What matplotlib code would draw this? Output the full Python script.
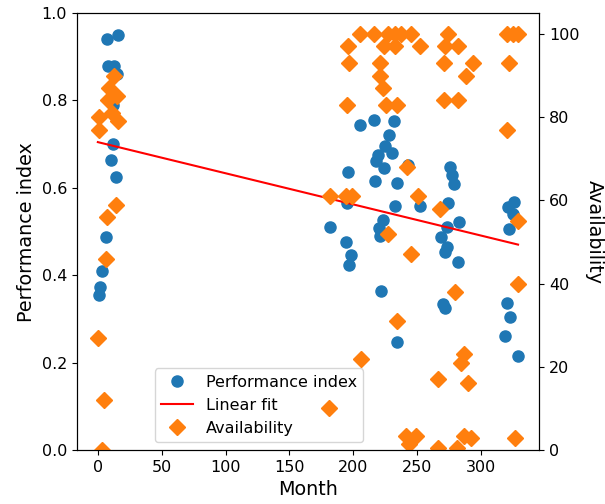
import numpy as np
import matplotlib
matplotlib.use("Agg")
import matplotlib.pyplot as plt

# performance index (left axis)
perf_month = [1, 2, 3, 6, 7, 8, 10, 12, 12, 13, 14, 15, 16,
              182, 194, 195, 196, 197, 198, 205, 216, 217, 218, 219, 220, 221, 222,
              223, 224, 225, 228, 230, 232, 233, 234, 234, 243, 252,
              269, 270, 272, 273, 272, 273, 274, 276, 277, 279, 282, 283,
              319, 320, 321, 322, 323, 325, 326, 329]
perf_value = [0.356, 0.373, 0.41, 0.487, 0.94, 0.88, 0.664, 0.70, 0.79, 0.88, 0.624, 0.86, 0.95,
              0.51, 0.476, 0.565, 0.637, 0.423, 0.446, 0.743, 0.755, 0.616, 0.662, 0.675, 0.508, 0.49, 0.365,
              0.526, 0.646, 0.696, 0.72, 0.68, 0.753, 0.558, 0.612, 0.248, 0.652, 0.559,
              0.488, 0.334, 0.324, 0.51, 0.454, 0.465, 0.566, 0.648, 0.63, 0.609, 0.43, 0.522,
              0.262, 0.337, 0.557, 0.505, 0.305, 0.541, 0.568, 0.215]

# availability (right axis)
avail_month = [0, 1, 1, 3, 5, 6, 7, 8, 9, 11, 13, 14, 15, 16,
               181, 182, 194, 195, 196, 197, 199, 205, 206, 216, 221, 221, 223, 224,
               226, 227, 227, 233, 233, 234, 234, 241, 244, 249,
               237, 242, 245, 245, 251, 252,
               266, 266, 268, 271, 271, 272, 274, 280, 281, 282, 282, 284, 287, 287,
               288, 290, 292, 294,
               320, 320, 322, 325, 329, 329, 329, 327]
avail_value = [27, 77, 80, 0, 12, 46, 56, 84, 87, 81, 90, 59, 85, 79,
               10, 61, 61, 83, 97, 93, 61, 100, 22, 100, 93, 90, 87, 97,
               83, 100, 52, 100, 97, 83, 31, 3.5, 1.5, 3.5,
               100, 68, 100, 47, 61, 97,
               0.5, 17, 58, 93, 84, 97, 100, 38, 0.5, 97, 84, 21, 23, 3.5,
               90, 16, 3, 93,
               77, 100, 93, 100, 100, 55, 40, 3]

perf_month = np.array(perf_month)
perf_value = np.array(perf_value)

# linear fit of performance vs month
coef = np.polyfit(perf_month, perf_value, 1)
fit_x = np.array([0, max(perf_month)])
fit_y = np.polyval(coef, fit_x)

fig, ax1 = plt.subplots(figsize=(6.05, 5.04), dpi=100)
fig.subplots_adjust(left=0.127, right=0.891, top=0.974, bottom=0.107)

p1, = ax1.plot(perf_month, perf_value, 'o', color='#1f77b4', markersize=8,
               label='Performance index')
l1, = ax1.plot(fit_x, fit_y, '-', color='red', linewidth=1.5, label='Linear fit')
ax1.set_ylim(0, 1)
ax1.set_xlabel('Month', fontsize=13.8)
ax1.set_ylabel('Performance index', fontsize=13.8)
ax1.tick_params(labelsize=11.5)

ax2 = ax1.twinx()
p2, = ax2.plot(avail_month, avail_value, 'D', color='#ff7f0e', markersize=8,
               label='Availability')
ax2.set_ylim(0, 105)
ax2.set_ylabel('Availability', fontsize=13.8, rotation=270, labelpad=18)
ax2.tick_params(labelsize=11.5)

ax1.legend(handles=[p1, l1, p2], loc='lower center', bbox_to_anchor=(0.394, 0.0),
           fontsize=11.5)

plt.savefig('out.png')
